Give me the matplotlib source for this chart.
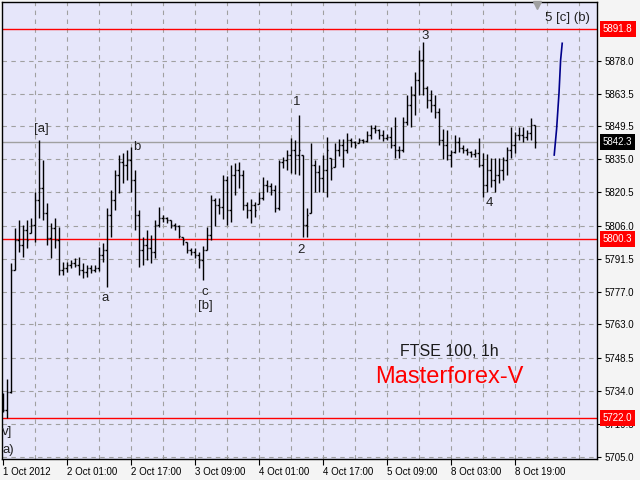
import matplotlib
matplotlib.use("Agg")
import matplotlib.pyplot as plt
import matplotlib.transforms as mtransforms

plt.rcParams['font.family'] = ['Liberation Sans', 'DejaVu Sans']

# FTSE 100, 1h bars (1 Oct 2012 .. 8 Oct 2012)
highs = [5733.1, 5739.2, 5789.8, 5805.0, 5808.5, 5806.3, 5808.5, 5809.4, 5820.7, 5843.3,
         5834.6, 5815.9, 5807.2, 5809.4, 5805.4, 5790.2, 5790.2, 5791.1, 5791.9, 5792.4,
         5789.8, 5788.9, 5788.9, 5788.9, 5796.7, 5798.5, 5813.7, 5821.6, 5830.3, 5836.8,
         5837.7, 5839.0, 5840.3, 5830.3, 5812.8, 5801.1, 5804.1, 5801.9, 5808.5, 5814.2,
         5810.7, 5809.8, 5808.5, 5807.2, 5806.3, 5801.1, 5798.9, 5796.3, 5796.3, 5794.6,
         5797.2, 5805.4, 5819.4, 5818.1, 5818.1, 5828.1, 5827.7, 5832.5, 5833.3, 5833.8,
         5830.3, 5816.3, 5817.6, 5816.3, 5820.7, 5827.2, 5825.9, 5824.6, 5823.7, 5834.6,
         5835.9, 5839.0, 5844.2, 5843.3, 5854.2, 5836.8, 5813.7, 5842.0, 5834.6, 5832.5,
         5836.8, 5844.7, 5835.5, 5842.0, 5843.8, 5843.8, 5846.4, 5844.2, 5842.9, 5844.2,
         5843.8, 5847.3, 5849.9, 5849.9, 5848.1, 5847.7, 5846.0, 5849.0, 5853.4, 5840.7,
         5853.4, 5863.0, 5866.9, 5873.0, 5882.6, 5886.1, 5866.9, 5865.1, 5863.0, 5857.3,
         5848.1, 5847.7, 5839.0, 5845.5, 5844.7, 5841.2, 5839.9, 5838.6, 5839.4, 5844.2,
         5837.7, 5837.3, 5835.5, 5835.5, 5835.5, 5835.9, 5840.3, 5849.0, 5846.8, 5849.0,
         5849.0, 5847.7, 5852.9, 5849.9]
lows = [5724.8, 5722.0, 5733.1, 5786.7, 5794.6, 5792.4, 5796.3, 5802.8, 5798.9, 5809.4,
        5808.5, 5797.6, 5791.9, 5796.3, 5784.5, 5784.5, 5785.8, 5787.6, 5788.0, 5784.5,
        5783.2, 5783.6, 5785.4, 5785.8, 5786.3, 5790.2, 5779.3, 5801.1, 5812.8, 5820.3,
        5824.6, 5825.9, 5820.7, 5804.1, 5788.0, 5788.9, 5791.1, 5789.8, 5791.9, 5805.4,
        5807.6, 5807.2, 5805.0, 5804.1, 5800.7, 5797.6, 5794.1, 5793.2, 5791.9, 5787.6,
        5782.3, 5795.4, 5799.8, 5805.9, 5811.1, 5808.9, 5806.3, 5807.6, 5819.4, 5822.4,
        5812.8, 5809.4, 5807.2, 5809.8, 5815.5, 5817.2, 5820.7, 5819.4, 5812.0, 5812.8,
        5831.2, 5830.3, 5829.0, 5828.5, 5828.1, 5801.1, 5801.1, 5811.5, 5820.7, 5820.7,
        5820.7, 5818.5, 5825.9, 5831.6, 5836.4, 5831.6, 5837.7, 5840.3, 5839.9, 5842.0,
        5842.0, 5842.5, 5843.8, 5846.4, 5843.8, 5842.9, 5843.3, 5839.9, 5835.5, 5835.5,
        5838.1, 5849.9, 5849.0, 5854.2, 5863.0, 5863.0, 5857.3, 5855.5, 5852.9, 5841.2,
        5835.1, 5834.6, 5831.6, 5837.7, 5838.1, 5837.7, 5836.8, 5835.9, 5835.9, 5831.6,
        5818.5, 5820.7, 5822.9, 5820.7, 5824.6, 5825.9, 5828.1, 5835.5, 5837.7, 5843.3,
        5842.5, 5843.3, 5843.3, 5839.9]
opens = [5732.2, 5725.7, 5733.6, 5786.7, 5799.8, 5797.6, 5804.1, 5802.8, 5806.3, 5817.2,
         5822.4, 5811.5, 5800.7, 5805.0, 5799.8, 5786.7, 5787.6, 5788.9, 5789.8, 5788.9,
         5786.7, 5785.8, 5787.6, 5786.7, 5787.6, 5793.2, 5795.4, 5810.7, 5817.2, 5828.1,
         5833.8, 5832.5, 5834.6, 5825.9, 5810.7, 5795.4, 5797.6, 5796.3, 5794.6, 5806.3,
         5809.4, 5809.4, 5808.5, 5806.3, 5805.9, 5801.1, 5798.9, 5795.4, 5794.6, 5793.2,
         5791.1, 5795.4, 5801.9, 5817.2, 5815.0, 5814.2, 5825.9, 5812.8, 5828.1, 5830.3,
         5828.1, 5815.0, 5812.8, 5815.0, 5815.5, 5818.1, 5823.7, 5823.3, 5821.6, 5813.7,
         5833.8, 5834.6, 5836.8, 5839.0, 5836.8, 5836.8, 5806.3, 5811.5, 5832.5, 5829.4,
         5826.8, 5830.3, 5835.5, 5831.6, 5839.0, 5841.2, 5839.0, 5843.3, 5842.5, 5842.0,
         5843.3, 5842.9, 5845.5, 5848.6, 5847.7, 5845.5, 5844.2, 5844.7, 5841.2, 5839.0,
         5839.0, 5851.2, 5858.6, 5863.0, 5869.5, 5878.2, 5866.0, 5860.8, 5858.6, 5855.5,
         5843.3, 5841.2, 5836.8, 5838.1, 5842.5, 5839.9, 5839.0, 5838.1, 5837.3, 5837.7,
         5832.5, 5823.7, 5830.3, 5825.9, 5828.1, 5830.3, 5834.6, 5839.0, 5841.2, 5845.5,
         5845.5, 5844.7, 5846.4, 5849.9]
closes = [5725.7, 5733.6, 5786.7, 5799.8, 5797.6, 5804.1, 5799.8, 5806.3, 5817.2, 5822.4,
          5811.5, 5800.7, 5805.0, 5799.8, 5786.7, 5787.6, 5788.9, 5789.8, 5788.9, 5786.7,
          5785.8, 5787.6, 5786.7, 5787.6, 5793.2, 5795.4, 5810.7, 5817.2, 5828.1, 5833.8,
          5832.5, 5834.6, 5825.9, 5810.7, 5795.4, 5797.6, 5796.3, 5794.6, 5806.3, 5809.4,
          5809.4, 5808.5, 5806.3, 5805.9, 5801.5, 5799.8, 5795.4, 5794.6, 5793.2, 5791.1,
          5795.4, 5801.9, 5817.2, 5815.0, 5814.2, 5825.9, 5812.8, 5828.1, 5830.3, 5828.1,
          5815.0, 5812.8, 5815.0, 5812.8, 5818.1, 5823.7, 5823.3, 5821.6, 5813.7, 5833.8,
          5834.6, 5836.8, 5839.0, 5836.8, 5839.0, 5806.3, 5810.7, 5832.5, 5829.4, 5826.8,
          5830.3, 5839.0, 5831.2, 5839.0, 5841.2, 5839.0, 5843.3, 5842.5, 5841.2, 5843.3,
          5842.9, 5845.5, 5848.6, 5847.7, 5845.5, 5844.2, 5844.7, 5841.2, 5839.0, 5839.0,
          5851.2, 5858.6, 5863.0, 5869.5, 5878.2, 5866.0, 5860.8, 5858.6, 5855.5, 5843.3,
          5841.2, 5836.8, 5838.1, 5842.5, 5839.9, 5839.0, 5838.1, 5837.3, 5837.7, 5832.5,
          5823.7, 5830.3, 5825.9, 5828.1, 5830.3, 5834.6, 5839.0, 5841.2, 5845.5, 5845.5,
          5844.7, 5846.4, 5849.9, 5842.3]

# projected wave 5 (blue line)
proj_x = [137.9, 138.5, 139.1, 139.5, 139.9]
proj_y = [5836.8, 5848.2, 5863.9, 5878.2, 5885.5]

red_levels = [5891.8, 5800.3, 5722.0]
bid_level = 5842.3

y_ticks = [5705.0, 5719.5, 5734.0, 5748.5, 5763.0, 5777.0, 5791.5,
           5806.0, 5820.5, 5835.0, 5849.5, 5863.5, 5878.0]
x_tick_pos = [0, 16, 32, 48, 64, 80, 96, 112, 128]
x_tick_labels = ['1 Oct 2012', '2 Oct 01:00', '2 Oct 17:00', '3 Oct 09:00', '4 Oct 01:00',
                 '4 Oct 17:00', '5 Oct 09:00', '8 Oct 03:00', '8 Oct 19:00']

wave_labels = [('[a]', 9.6, 5848.1), ('b', 33.6, 5840.3), ('a', 25.6, 5774.6),
               ('c', 50.6, 5777.1), ('[b]', 50.6, 5771.0), ('1', 73.6, 5859.9),
               ('2', 74.6, 5795.4), ('3', 105.6, 5888.7), ('4', 121.6, 5815.9),
               ('5 [c] (b)', 141.1, 5896.5)]

bar_x = list(range(len(highs)))

fig = plt.figure(figsize=(6.4, 4.8), dpi=100, facecolor='#F4F4F4')
ax = fig.add_axes([2 / 640, 21 / 480, 595 / 640, 457 / 480])
ax.set_facecolor('#E6E6FA')
ax.set_xlim(-0.2, 148.6)
ax.set_ylim(5704.3, 5903.5)

# dashed grid
for g in range(8, 149, 8):
    ax.axvline(g, color='#A0A0A0', lw=0.8, ls=(0, (4, 4)), zorder=0)
for v in y_ticks:
    ax.axhline(v, color='#A0A0A0', lw=0.8, ls=(0, (4, 4)), zorder=0)

# level lines
for lv in red_levels:
    ax.axhline(lv, color='red', lw=1.0, zorder=1)
ax.axhline(bid_level, color='#A0A0A0', lw=1.0, zorder=1)

# OHLC bars
ax.vlines(bar_x, lows, highs, color='black', lw=1.0, zorder=3)
ax.hlines(opens, [x - 0.4 for x in bar_x], bar_x, color='black', lw=1.0, zorder=3)
ax.hlines(closes, bar_x, [x + 0.4 for x in bar_x], color='black', lw=1.0, zorder=3)

ax.plot(proj_x, proj_y, color='#00008B', lw=1.2, zorder=3)

# wave count labels
for txt, x, y in wave_labels:
    ax.text(x, y, txt, ha='center', va='center', fontsize=9.5, color='#222222')
ax.text(-0.1, 5716.1, 'v]', ha='left', va='center', fontsize=9.5, color='#222222')
ax.text(-0.1, 5708.3, 'a)', ha='left', va='center', fontsize=9.5, color='#222222')

ax.text(111.7, 5751.1, 'FTSE 100, 1h', ha='center', va='center', fontsize=11.5, color='#1A1A1A')
ax.text(111.6, 5740.2, 'Masterforex-V', ha='center', va='center', fontsize=17, color='red')

# chart shift marker
ax.plot([133.6], [5902.0], marker='v', color='#A0A0A0', ms=6, clip_on=False, zorder=4)

# axes
ax.yaxis.tick_right()
ax.set_yticks(y_ticks)
ax.set_yticklabels([f'{v:.1f}' for v in y_ticks])
ax.tick_params(axis='y', labelsize=7, length=3, pad=2.2, width=0.8)
ax.set_xticks(x_tick_pos)
ax.set_xticklabels(x_tick_labels)
ax.tick_params(axis='x', labelsize=7, length=4, pad=1.5, width=0.8)
for lab in ax.get_xticklabels():
    lab.set_ha('left')
for sp in ax.spines.values():
    sp.set_color('black')
    sp.set_linewidth(1.0)

trans = mtransforms.blended_transform_factory(ax.transAxes, ax.transData)
for lv in red_levels:
    ax.text(1.0101, lv, f'{lv:.1f}', transform=trans, ha='left', va='center', fontsize=7,
            color='white', clip_on=False,
            bbox=dict(boxstyle='square,pad=0.3', fc='red', ec='none'))
ax.text(1.0101, bid_level, f'{bid_level:.1f}', transform=trans, ha='left', va='center',
        fontsize=7, color='white', clip_on=False,
        bbox=dict(boxstyle='square,pad=0.3', fc='black', ec='none'))

fig.savefig('out.png', dpi=100, facecolor=fig.get_facecolor())
